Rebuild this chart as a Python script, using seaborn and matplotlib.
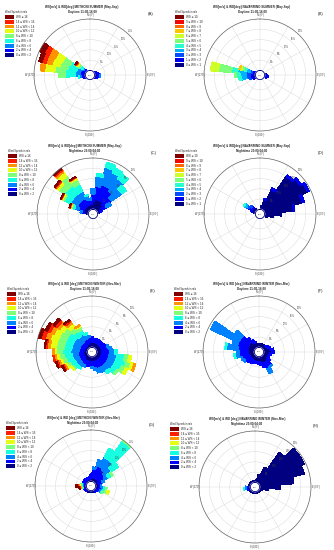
import numpy as np
import matplotlib
matplotlib.use("Agg")
import matplotlib.pyplot as plt
from matplotlib.patches import Patch
import seaborn as sns

# speed classes (lowest first)
BINS_2MS = ["0 \u2264 WS < 2", "2 \u2264 WS < 4", "4 \u2264 WS < 6", "6 \u2264 WS < 8",
            "8 \u2264 WS < 10", "10 \u2264 WS < 12", "12 \u2264 WS < 14", "14 \u2264 WS < 16",
            "WS \u2265 16"]
BINS_1MS = ["0 \u2264 WS < 1", "1 \u2264 WS < 2", "2 \u2264 WS < 3", "3 \u2264 WS < 4",
            "4 \u2264 WS < 5", "5 \u2264 WS < 6", "6 \u2264 WS < 7", "7 \u2264 WS < 8",
            "8 \u2264 WS < 9", "9 \u2264 WS < 10", "WS \u2265 10"]

TITLES = [
    ("WS[m/s] & WD[deg] METHONI SUMMER (May-Sep)", "Daytime 11:00-16:00"),
    ("WS[m/s] & WD[deg] NAVARRINO SUMMER (May-Sep)", "Daytime 11:00-16:00"),
    ("WS[m/s] & WD[deg] METHONI SUMMER (May-Sep)", "Nighttime 23:00-04:00"),
    ("WS[m/s] & WD[deg] NAVARRINO SUMMER (May-Sep)", "Nighttime 23:00-04:00"),
    ("WS[m/s] & WD [deg] METHONI WINTER (Nov-Mar)", "Daytime 11:00-16:00"),
    ("WS[m/s] & WD [deg] NAVARRINO WINTER (Nov-Mar)", "Daytime 11:00-16:00"),
    ("WS[m/s] & WD [deg] METHONI WINTER (Nov-Mar)", "Nighttime 23:00-04:00"),
    ("WS[m/s] & WD [deg] NAVARRINO WINTER (Nov-Mar)", "Nighttime 23:00-04:00"),
]
PANEL_TAGS = ["(A)", "(B)", "(C)", "(D)", "(E)", "(F)", "(G)", "(H)"]
RMAX = [25, 20, 10, 30, 10, 20, 25, 30]      # outer ring, % of time
CALM = ["3.2%", "2.1%", "1.4%", "0.8%", "1.1%", "2.6%", "1.9%", "0.9%"]

# frequencies (%) per direction, stacked by speed class
A_dir = [60, 70, 80, 90, 100, 110, 120, 240, 250, 260, 270, 280, 290, 300, 310, 320]
A_freq = [[0.5], [0.8, 0.3], [1.2, 0.8], [1.5, 1.2, 0.3], [1.5, 1.0, 0.2], [1.0, 0.5],
          [0.6], [0.5], [0.8, 0.3], [1.0, 1.0, 1.0, 0.5], [1.0, 1.5, 2.5, 5.0, 3.0],
          [1.0, 1.5, 2.5, 5.0, 5.0, 5.0, 2.0],
          [1.0, 1.5, 2.0, 4.5, 4.0, 4.0, 3.0, 2.0, 1.5],
          [1.0, 1.5, 2.0, 4.0, 4.0, 4.0, 3.5, 2.5, 2.5],
          [0.5, 0.8, 1.0, 1.5, 1.0, 0.8, 0.5, 0.3, 0.3], [0.4, 0.3]]

B_dir = [80, 90, 100, 110, 240, 250, 260, 270, 280, 290, 300]
B_freq = [[0.5], [0.8, 0.3], [1.0, 0.5], [0.6, 0.3], [0.8, 0.3], [1.0, 1.0, 0.5],
          [0.8, 1.2, 1.5, 2.0, 1.0], [0.8, 1.2, 1.5, 2.5, 1.5, 0.5],
          [1.0, 1.2, 1.3, 3.5, 2.5, 5.0, 3.0],
          [0.5, 0.8, 1.0, 1.5, 1.0, 0.8, 0.6, 0.4], [0.4, 0.4]]

C_dir = [0, 10, 20, 30, 40, 50, 60, 70, 80, 270, 280, 290, 300, 310, 320, 330, 340, 350]
C_freq = [[1.5, 1.5, 1.0], [2.0, 2.5, 2.0, 0.5], [2.0, 3.0, 3.5, 1.0], [2.0, 3.0, 3.0, 1.0],
          [2.0, 2.5, 3.0, 1.2], [1.5, 2.0, 2.5, 1.0], [1.0, 1.0, 1.0], [0.6, 0.3], [0.4],
          [0.4], [0.8, 0.5, 0.3], [1.0, 1.0, 0.8, 0.5, 0.2, 0.1, 0.1, 0.1, 0.1],
          [1.0, 1.5, 1.5, 1.2, 0.4, 0.2, 0.1, 0.1, 0.1],
          [1.0, 1.5, 1.5, 2.0, 1.2, 0.5, 0.2, 0.2, 0.2],
          [1.0, 1.5, 1.5, 2.0, 2.0, 1.0, 0.4, 0.3, 0.3],
          [1.0, 1.5, 1.5, 1.5, 1.0, 0.3, 0.1, 0.1, 0.1],
          [1.0, 1.0, 0.8, 0.2], [1.0, 0.8, 0.4]]

D_dir = [10, 20, 30, 40, 50, 60, 70, 80, 90, 100, 110, 280, 290, 300, 310, 320]
D_freq = [[2.0], [6.0, 0.5], [13.0, 1.0], [24.0, 1.0], [26.0, 1.0], [28.0, 1.0],
          [23.0, 1.0], [17.0, 0.5], [10.0], [5.0], [2.0], [1.0], [2.0, 1.0],
          [2.5, 2.0, 1.5, 1.5, 0.5], [2.0, 1.5, 1.0], [1.0]]

E_dir = list(range(0, 360, 10))
E_freq = [[1.0, 1.0], [1.0, 0.8], [1.0, 0.8], [1.0, 0.8], [1.0, 0.8], [1.0, 0.8],
          [1.0, 1.0], [1.0, 1.2, 0.3], [1.0, 1.5, 0.5], [1.0, 1.5, 1.0, 0.5],
          [1.0, 1.5, 1.5, 1.5, 0.8, 0.5], [1.0, 1.5, 1.5, 2.0, 1.0, 0.6, 0.3],
          [1.0, 1.5, 1.5, 1.5, 0.8, 0.5], [1.0, 1.5, 1.5, 1.0, 0.3], [1.0, 1.5, 1.2, 0.5],
          [1.0, 1.5, 1.0], [1.0, 1.5, 0.8], [1.0, 1.2, 0.5], [1.0, 1.0, 0.3], [1.0, 1.0],
          [1.0, 1.0], [1.0, 1.0, 0.3], [1.0, 1.0, 0.8, 0.3], [0.8, 1.0, 1.0, 0.8, 0.3, 0.2],
          [0.8, 1.0, 1.0, 1.0, 0.6, 0.4, 0.3, 0.3, 0.2],
          [0.8, 1.0, 1.2, 1.2, 0.8, 0.5, 0.4, 0.3, 0.2],
          [0.8, 1.0, 1.2, 1.5, 1.0, 0.6, 0.4, 0.2],
          [0.8, 1.0, 1.5, 1.5, 1.2, 0.5, 0.3],
          [0.6, 1.0, 1.5, 1.5, 1.5, 1.2, 0.6, 0.3, 0.2],
          [0.6, 1.0, 1.5, 1.5, 1.5, 1.5, 1.0, 0.8, 0.5],
          [0.6, 1.0, 1.5, 1.5, 1.5, 1.2, 0.8, 0.6, 0.4],
          [0.6, 1.0, 1.5, 1.5, 1.2, 1.0, 0.6, 0.5, 0.4],
          [0.6, 1.0, 1.2, 1.2, 1.0, 0.8, 0.5, 0.3, 0.2],
          [0.8, 1.0, 1.2, 0.8, 0.6, 0.3, 0.2], [0.8, 1.0, 0.8, 0.4], [1.0, 1.0, 0.3]]

F_dir = list(range(0, 360, 10))
F_freq = [[1.5], [1.5], [1.5], [1.5], [1.5], [1.5, 0.3], [2.0, 0.5], [2.5, 0.5],
          [3.0, 1.0], [3.0, 1.0], [2.5, 0.5], [2.0, 0.5], [2.0, 0.5], [2.5, 1.0],
          [3.0, 2.0, 0.5], [3.0, 2.5, 2.0], [3.0, 1.5], [2.5, 1.0], [2.0, 1.0], [2.0, 0.8],
          [2.0, 0.8], [2.0, 1.0], [2.0, 1.5], [2.0, 2.0], [2.0, 2.5, 0.5], [2.0, 3.0, 0.5],
          [2.5, 3.5, 1.5, 0.5], [2.5, 3.5, 1.0], [2.5, 4.0, 4.5, 0.5], [3.0, 4.0, 2.0],
          [3.0, 4.0, 12.0], [3.0, 4.0, 3.0], [3.0, 2.0], [2.5, 1.0], [2.0, 0.5], [1.5]]

G_dir = list(range(0, 360, 10))
G_freq = [[1.5, 2.0], [2.0, 4.0, 1.0], [2.0, 6.0, 3.0], [2.0, 6.0, 5.0, 5.0],
          [2.0, 5.0, 6.0, 11.5, 0.5], [2.0, 4.0, 4.0, 4.0], [2.0, 3.0, 2.0, 2.0, 0.5],
          [1.5, 2.0, 1.0], [1.5, 1.0], [1.5, 1.0, 0.3], [1.5, 1.5, 1.0, 1.0, 0.5],
          [1.5, 1.5, 1.0, 1.0, 1.0, 1.0], [1.5, 1.0, 0.8, 0.5, 0.3], [1.2, 0.5],
          [1.0, 0.3], [1.0], [1.0], [1.0], [1.0], [1.0], [1.0], [1.0], [1.0], [1.0, 0.3],
          [1.0, 0.3], [1.0, 0.4],
          [1.0, 0.5, 0.3, 0.3, 0.3, 0.3, 0.3, 0.3, 0.3],
          [1.0, 0.5, 0.5, 0.5, 0.5, 0.5, 0.5, 0.6, 0.6],
          [1.0, 0.8, 0.5, 0.3, 0.3], [1.0, 1.0], [1.2, 1.0], [1.2, 1.0], [1.2, 1.0],
          [1.2, 1.0], [1.2, 1.0], [1.2, 1.0]]

H_dir = list(range(0, 360, 10))
H_freq = [[1.0], [1.5], [5.0], [10.0], [22.0], [29.0], [29.0], [27.0], [20.0], [12.0],
          [5.0], [2.0], [1.0], [1.0], [1.0], [1.0], [1.0], [1.0], [1.0], [1.0], [1.0],
          [1.0], [1.0], [1.0], [1.0], [1.5, 0.5], [1.5, 1.0, 1.0, 0.5], [1.5, 1.0, 0.5],
          [1.2], [1.0], [1.0], [1.0], [1.0], [1.0], [1.0], [1.0]]

PANELS = [(A_dir, A_freq, BINS_2MS), (B_dir, B_freq, BINS_1MS),
          (C_dir, C_freq, BINS_2MS), (D_dir, D_freq, BINS_1MS),
          (E_dir, E_freq, BINS_2MS), (F_dir, F_freq, BINS_2MS),
          (G_dir, G_freq, BINS_2MS), (H_dir, H_freq, BINS_2MS)]

# layout in pixels
W, H = 334, 550
R = 56
CENTERS = [(90, 75), (260, 75), (93, 214), (260, 214),
           (92, 352), (259, 352), (91, 486), (255, 487)]

sns.set_style("white")
plt.rcParams["font.family"] = ["Liberation Sans", "DejaVu Sans"]
jet = matplotlib.colormaps["jet"]


def draw_rose(ax, dirs, freq, labels, rmax, calm):
    n = len(labels)
    r0 = rmax * 0.09
    colors = jet(np.linspace(0, 1, n))
    table = np.zeros((len(dirs), n))
    for i, row in enumerate(freq):
        table[i, :len(row)] = row
    theta = np.deg2rad(dirs)
    bottom = np.full(len(dirs), r0)
    for k in range(n):
        h = table[:, k]
        m = h > 0
        if m.any():
            ax.bar(theta[m], h[m], width=np.deg2rad(10), bottom=bottom[m],
                   color=colors[k], edgecolor=colors[k], linewidth=0.3,
                   antialiased=False, zorder=2)
        bottom += h

    ax.set_theta_zero_location("N")
    ax.set_theta_direction(-1)
    ax.set_ylim(0, r0 + rmax)
    rings = [r0 + rmax * k / 5 for k in range(1, 6)]
    ax.set_xticks(np.deg2rad(np.arange(0, 360, 30)))
    ax.set_xticklabels([])
    ax.set_yticks(rings)
    ax.set_yticklabels([])
    ax.grid(color="#d4d4d4", linewidth=0.3)
    ax.set_axisbelow(True)
    ax.spines["polar"].set_color("#666666")
    ax.spines["polar"].set_linewidth(0.5)

    # calm circle
    t = np.linspace(0, 2 * np.pi, 120)
    ax.fill(t, np.full_like(t, r0), color="white", zorder=3)
    ax.plot(t, np.full_like(t, r0), color="#000080", linewidth=0.6, zorder=4)
    ax.text(0, 0, calm, fontsize=1.4, ha="center", va="center", zorder=5, color="#333333")

    for k, r in enumerate(rings):
        ax.text(np.deg2rad(42), r, f"{rmax * (k + 1) / 5:g}%", fontsize=1.8,
                ha="left", va="bottom", color="#444444", zorder=5)
    rout = (r0 + rmax) * 1.08
    for ang, lab in [(0, "N (0\u00b0)"), (90, "E (90\u00b0)"), (180, "S (180\u00b0)"),
                     (270, "W (270\u00b0)")]:
        ax.text(np.deg2rad(ang), rout, lab, fontsize=1.8, ha="center", va="center",
                color="#333333", clip_on=False)
    return colors


fig = plt.figure(figsize=(W / 100, H / 100), dpi=100)

for i, ((dirs, freq, labels), (cx, cy)) in enumerate(zip(PANELS, CENTERS)):
    ax = fig.add_axes([(cx - R) / W, 1 - (cy + R) / H, 2 * R / W, 2 * R / H],
                      projection="polar")
    colors = draw_rose(ax, dirs, freq, labels, RMAX[i], CALM[i])

    handles = [Patch(facecolor=c, edgecolor="none") for c in colors][::-1]
    leg = ax.legend(handles, labels[::-1], title="Wind Speeds in m/s",
                    loc="upper left", bbox_to_anchor=((cx - 85) / W, 1 - (cy - 65) / H),
                    bbox_transform=fig.transFigure, frameon=False, fontsize=2.2,
                    title_fontsize=1.8, handlelength=3.0, handleheight=1.5,
                    labelspacing=0.25, handletextpad=0.5, borderpad=0.1,
                    borderaxespad=0)
    leg._legend_box.align = "left"

    fig.text((cx - 8) / W, 1 - (cy - 68) / H, TITLES[i][0], fontsize=2.2,
             fontweight="bold", ha="center", va="center")
    fig.text((cx - 8) / W, 1 - (cy - 63) / H, TITLES[i][1], fontsize=2.2,
             fontweight="bold", ha="center", va="center")
    fig.text((cx + 61) / W, 1 - (cy - 61) / H, PANEL_TAGS[i], fontsize=3.2,
             ha="center", va="center")

fig.savefig("out.png", dpi=100)
